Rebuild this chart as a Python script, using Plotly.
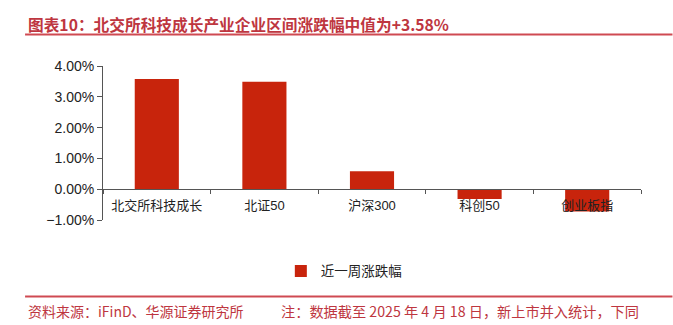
import plotly.graph_objects as go

categories = ["北交所科技成长", "北证50", "沪深300", "科创50", "创业板指"]
weekly_change = [3.58, 3.49, 0.58, -0.32, -0.72]
series_name = "近一周涨跌幅"
y_tick_vals = [-1, 0, 1, 2, 3, 4]
y_tick_text = ["−1.00%", "0.00%", "1.00%", "2.00%", "3.00%", "4.00%"]
title_text = "图表10：北交所科技成长产业企业区间涨跌幅中值为+3.58%"
source_text = "资料来源：iFinD、华源证券研究所"
note_text = "注：数据截至 2025 年 4 月 18 日，新上市并入统计，下同"

W, H = 673, 325
L, R, T, B = 103, 31.5, 65.7, 104.5
PW, PH = W - L - R, H - T - B
YMIN, YMAX = -1, 4

def px_x(x):
    return (x - L) / PW

def px_y(y):
    return 1 - (y - T) / PH

BAR = "#C8240C"
RED_TEXT = "#BE3640"
RED_LINE = "#CF4A52"
AXIS = "#555555"
LATIN_CJK = "Liberation Sans, Noto Sans CJK SC, sans-serif"

fig = go.Figure()
fig.add_trace(go.Bar(
    x=categories, y=weekly_change, name=series_name,
    marker=dict(color=BAR, line=dict(width=0)), width=0.41,
    showlegend=True,
))

fig.update_layout(
    width=W, height=H,
    margin=dict(l=L, r=R, t=T, b=B, pad=0),
    paper_bgcolor="white", plot_bgcolor="white",
    showlegend=True,
    legend=dict(
        orientation="h", x=px_x(281), y=px_y(272), xanchor="left", yanchor="middle",
        font=dict(family=LATIN_CJK, size=13.5, color="#222222"),
        bgcolor="rgba(0,0,0,0)", borderwidth=0,
    ),
    xaxis=dict(
        type="category", anchor="free", position=(0 - YMIN) / (YMAX - YMIN),
        showline=True, linecolor=AXIS, linewidth=1,
        ticks="outside", tickson="boundaries", ticklen=4, tickcolor=AXIS, tickwidth=1,
        ticklabelstandoff=4,
        showgrid=False, zeroline=False,
        tickfont=dict(family=LATIN_CJK, size=13, color="#222222"),
        layer="above traces",
    ),
    yaxis=dict(
        range=[YMIN, YMAX], tickvals=y_tick_vals, ticktext=y_tick_text,
        showline=True, linecolor=AXIS, linewidth=1,
        ticks="outside", ticklen=5, tickcolor=AXIS, tickwidth=1,
        showgrid=False, zeroline=False,
        tickfont=dict(family=LATIN_CJK, size=14, color="#222222"),
    ),
    bargap=0.59,
)

# Title
fig.add_annotation(
    text=title_text, xref="paper", yref="paper",
    x=px_x(26), y=px_y(24), xanchor="left", yanchor="middle", showarrow=False,
    font=dict(family="Noto Sans CJK SC, sans-serif", size=15.7, color=RED_TEXT, weight="bold"),
)
# Footer
fig.add_annotation(
    text=source_text, xref="paper", yref="paper",
    x=px_x(26), y=px_y(312), xanchor="left", yanchor="middle", showarrow=False,
    font=dict(family="Noto Sans CJK SC, sans-serif", size=14, color=RED_TEXT),
)
fig.add_annotation(
    text=note_text, xref="paper", yref="paper",
    x=px_x(279), y=px_y(312), xanchor="left", yanchor="middle", showarrow=False,
    font=dict(family="Noto Sans CJK SC, sans-serif", size=14.2, color=RED_TEXT),
)
# Separator lines
for yline in (34, 297.5):
    fig.add_shape(
        type="line", xref="paper", yref="paper",
        x0=px_x(25), x1=px_x(673), y0=px_y(yline), y1=px_y(yline),
        line=dict(color=RED_LINE, width=2),
    )

fig.write_html("out.html")
